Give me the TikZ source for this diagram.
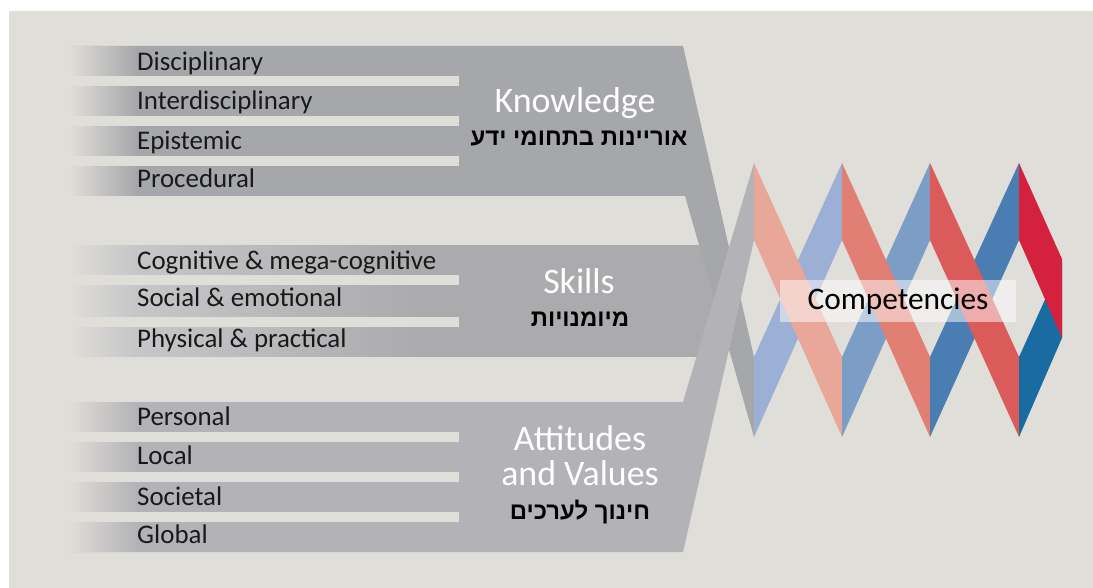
\documentclass[tikz,border=0pt]{standalone}
\usepackage{fontspec}
\setmainfont{Carlito}
\newfontfamily\hebfont[Script=Hebrew]{Liberation Sans}
\TeXXeTstate=1
\definecolor{panelbg}{HTML}{E0DED9}
\definecolor{knowgray}{HTML}{A6A7AA}
\definecolor{skillgray}{HTML}{ABABAE}
\definecolor{skillmid}{HTML}{C6C6C8}
\definecolor{attgray}{HTML}{B3B2B6}
\definecolor{red1}{HTML}{E9A79A}
\definecolor{red2}{HTML}{E27F74}
\definecolor{red3}{HTML}{DA5B59}
\definecolor{red4}{HTML}{D3213F}
\definecolor{blue1}{HTML}{9BB0D4}
\definecolor{blue2}{HTML}{7B9DC6}
\definecolor{blue3}{HTML}{4A7EB2}
\definecolor{blue4}{HTML}{1B6BA3}
% fadebar{x from}{x to}{top}{bottom}{colour from}{colour to}
\newcommand{\fadebar}[6]{%
  \foreach \i in {0,...,39} {
    \pgfmathsetmacro\xl{#1 + (#2 - #1) * \i / 40}
    \pgfmathsetmacro\xr{#1 + (#2 - #1) * (\i + 1.3) / 40}
    \pgfmathtruncatemacro\p{\i * 100 / 39}
    \fill[#6!\p!#5] (\xl, #3) rectangle (\xr, #4);
  }}
\begin{document}
\begin{tikzpicture}[x=1bp, y=-1bp,
    rowlabel/.style={anchor=base west, inner sep=0pt, text=black!90, font=\fontsize{27}{30}\selectfont},
    grouptitle/.style={anchor=base, inner sep=0pt, text=white, font=\fontsize{36}{40}\selectfont},
    grouphebrew/.style={anchor=base, inner sep=0pt, text=black, font=\hebfont\bfseries\fontsize{24}{28}\selectfont},
    compbox/.style={fill=white, fill opacity=0.5, text opacity=1, minimum width=237, minimum height=43, inner sep=0pt, font=\fontsize{31.5}{36}\selectfont}]
  \useasboundingbox (0, 0) rectangle (1093, 588);
  \fill[white] (0, 0) rectangle (1093, 588);
  \fill[panelbg] (9, 11) rectangle (1093, 588);
  % grey blocks
  \fill[skillgray] (68, 245) -- (715, 245) -- (715, 357) -- (68, 357) -- cycle;
  \fadebar{68}{136}{245}{357}{panelbg}{skillmid}
  \fadebar{136}{420}{245}{357}{skillmid}{skillgray}
  \fill[knowgray] (68, 46) -- (683, 46) -- (754, 357) -- (754, 437) -- (685, 196) -- (68, 196) -- cycle;
  \fadebar{68}{138}{46}{196}{panelbg}{knowgray}
  \fill[attgray] (68, 402) -- (683, 402) -- (754, 163) -- (754, 240) -- (683, 552) -- (68, 552) -- cycle;
  \fadebar{68}{138}{402}{552}{panelbg}{attgray}
  \foreach \y in {76, 116, 156, 275, 317, 432, 472, 512}
    \fill[panelbg] (68, \y) rectangle (459, \y + 10);
  % ribbon
  \foreach \xa/\xb/\cr/\cb in {754/842/red1/blue1, 842/930/red2/blue2, 930/1019/red3/blue3} {
    \fill[\cb] (\xa, 357) -- (\xb, 163) -- (\xb, 240) -- (\xa, 437) -- cycle;
    \fill[\cr] (\xa, 163) -- (\xb, 357) -- (\xb, 437) -- (\xa, 240) -- cycle;
  }
  \fill[blue4] (1019, 357) -- (1062, 262) -- (1062, 338) -- (1019, 437) -- cycle;
  \fill[red4] (1019, 163) -- (1062, 259) -- (1062, 338) -- (1019, 240) -- cycle;
  \node[compbox] (comp) at (898, 301) {Competencies};
  % labels
  \foreach \name/\txt/\yb in {dis/Disciplinary/71, int/Interdisciplinary/110, epi/Epistemic/150, pro/Procedural/188,
      cog/Cognitive \& mega-cognitive/270, soc/Social \& emotional/307, phy/Physical \& practical/347,
      per/Personal/425, loc/Local/464, sot/Societal/505, glo/Global/543}
    \node[rowlabel] (\name) at (137, \yb) {\txt};
  \node[grouptitle] (know) at (575, 113) {Knowledge};
  \node[grouphebrew] (knowheb) at (579, 146) {\beginR אוריינות בתחומי ידע\endR};
  \node[grouptitle] (skill) at (579, 294) {Skills};
  \node[grouphebrew] (skillheb) at (580, 327) {\beginR מיומנויות\endR};
  \node[grouptitle] (attA) at (580, 450) {Attitudes};
  \node[grouptitle] (attB) at (580, 485) {and Values};
  \node[grouphebrew] (attheb) at (580, 519) {\beginR חינוך לערכים\endR};
\end{tikzpicture}
\end{document}
